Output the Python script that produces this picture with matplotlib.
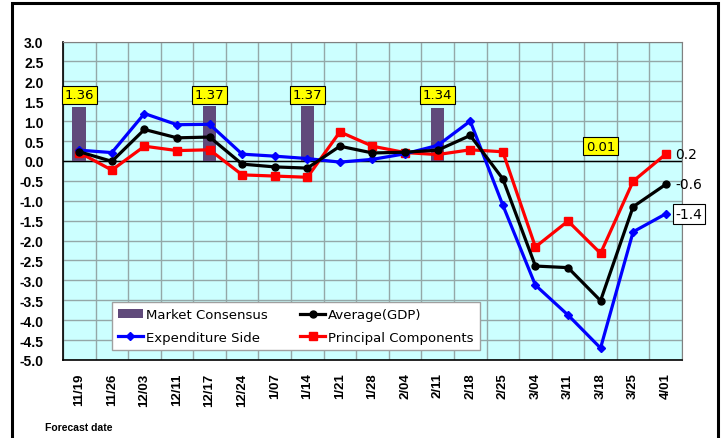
import numpy as np
import matplotlib.pyplot as plt
from matplotlib.patches import Rectangle

# data
dates = ['11/19', '11/26', '12/03', '12/11', '12/17', '12/24', '1/07', '1/14', '1/21', '1/28',
         '2/04', '2/11', '2/18', '2/25', '3/04', '3/11', '3/18', '3/25', '4/01']
consensus_idx = [0, 4, 7, 11, 16]
consensus_val = [1.36, 1.37, 1.37, 1.34, 0.01]
expenditure = [0.27, 0.21, 1.19, 0.91, 0.92, 0.17, 0.12, 0.06, -0.03, 0.04,
               0.18, 0.39, 1.00, -1.11, -3.12, -3.87, -4.70, -1.78, -1.33]
average = [0.23, -0.01, 0.79, 0.58, 0.60, -0.08, -0.15, -0.18, 0.37, 0.20,
           0.22, 0.27, 0.64, -0.45, -2.64, -2.68, -3.51, -1.15, -0.59]
principal = [0.21, -0.23, 0.37, 0.26, 0.28, -0.35, -0.38, -0.41, 0.73, 0.37,
             0.21, 0.16, 0.28, 0.23, -2.16, -1.51, -2.32, -0.51, 0.17]
end_labels = ['0.2', '-0.6', '-1.4']

fig = plt.figure(figsize=(7.24, 4.39), dpi=100)
ax = fig.add_axes([63/724, 1-361/439, 619/724, 318.5/439])
ax.set_facecolor('#CCFFFF')

x = np.arange(len(dates))
bars = ax.bar(consensus_idx, consensus_val, width=0.42, color='#604A7B', label='Market Consensus', zorder=2)
l_exp, = ax.plot(x, expenditure, color='#0000FF', lw=2.3, marker='D', ms=4, label='Expenditure Side', zorder=4)
l_avg, = ax.plot(x, average, color='black', lw=2.3, marker='o', ms=5, label='Average(GDP)', zorder=4)
l_pc, = ax.plot(x, principal, color='#FF0000', lw=2.3, marker='s', ms=5.5, label='Principal Components', zorder=3)

# boxed consensus values
for i, v in zip(consensus_idx, consensus_val):
    y = 0.37 if v < 0.1 else 1.66
    ax.text(i, y, f'{v:.2f}', ha='center', va='center', fontsize=9.5, family='DejaVu Sans',
            bbox=dict(boxstyle='square,pad=0.2', fc='#FFFF00', ec='black', lw=0.8), zorder=5)

# end-of-line labels
last = len(dates) - 1
ax.text(last + 0.3, principal[-1], end_labels[0], va='center', fontsize=10)
ax.text(last + 0.3, average[-1], end_labels[1], va='center', fontsize=10)
ax.text(last + 0.3, expenditure[-1], end_labels[2], va='center', fontsize=10,
        bbox=dict(boxstyle='square,pad=0.2', fc='white', ec='black', lw=0.8), clip_on=False)

ax.axhline(0, color='black', lw=1, zorder=1.5)
ax.set_xlim(-0.5, len(dates) - 0.5)
ax.set_ylim(-5, 3)
ax.set_yticks(np.arange(-5, 3.01, 0.5))
ax.set_yticklabels([f'{v:.1f}' for v in np.arange(-5, 3.01, 0.5)],
                   fontsize=10, fontweight='bold', family='Liberation Sans')
ax.set_xticks(x)
ax.set_xticklabels(dates, rotation=90, fontsize=9.5, fontweight='bold', family='Liberation Sans')
ax.set_xticks(np.arange(-0.5, len(dates)), minor=True)
ax.tick_params(axis='both', which='both', length=0)
ax.tick_params(axis='y', pad=14)
ax.tick_params(axis='x', pad=9)
ax.grid(True, which='minor', axis='x', color='#94A8A8', lw=1)
ax.grid(True, which='major', axis='y', color='#94A8A8', lw=1)
ax.set_axisbelow(True)
for s in ['top', 'right']:
    ax.spines[s].set_color('#808080')
for s in ['left', 'bottom']:
    ax.spines[s].set_color('black')
    ax.spines[s].set_linewidth(1.2)

leg = ax.legend([bars, l_exp, l_avg, l_pc],
                ['Market Consensus', 'Expenditure Side', 'Average(GDP)', 'Principal Components'],
                ncol=2, loc='lower left', bbox_to_anchor=(49/619, 10/318.5), borderaxespad=0,
                fancybox=False, framealpha=1, edgecolor='#A0A0A0', fontsize=9.5,
                columnspacing=2.5, handlelength=1.9, handletextpad=0.2, borderpad=0.45,
                labelspacing=0.75)

fig.text(45/724, 1-428/439, 'Forecast date', fontsize=7.5, fontweight='bold',
         family='Liberation Sans', va='center')

fig.patches.append(Rectangle((12/724, -0.1), 706/724, 1.1 - 4/439, transform=fig.transFigure,
                             fill=False, ec='black', lw=2.2, clip_on=False))

fig.savefig('out.png', dpi=100)
